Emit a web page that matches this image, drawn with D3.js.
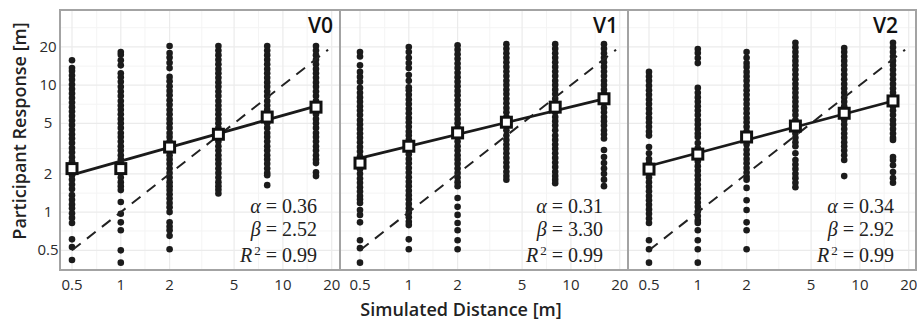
<!DOCTYPE html>
<html>
<head>
<meta charset="utf-8">
<script src="https://cdn.jsdelivr.net/npm/d3@7"></script>
<style>
  body { margin: 0; background: #fff; }
  svg { display: block; }
</style>
</head>
<body>
<div id="chart"></div>
<script>
// Data
const panelNames = ["V0", "V1", "V2"];
const simulated = [0.5, 1, 2, 4, 8, 16];
const tickValues = [0.5, 1, 2, 5, 10, 20];
const minorTicks = [0.71, 1.41, 3.16, 7.07, 14.1, 28.3];

const alphas = [0.36, 0.31, 0.34];
const betas = [2.52, 3.30, 2.92];
const rSquared = [0.99, 0.99, 0.99];

const meansV0 = [2.2, 2.2, 3.25, 4.1, 5.6, 6.7];
const meansV1 = [2.43, 3.3, 4.2, 5.1, 6.7, 7.8];
const meansV2 = [2.18, 2.86, 3.9, 4.76, 6.0, 7.5];

// participant responses, one list per simulated distance
const responsesV0 = [
  [15.7, 13.6, 12.9, 11.9, 11, 10.1, 9.3, 8.6, 7.9, 7.3, 6.7, 6.2, 5.7, 5.25, 4.85, 4.45, 4.1, 3.8, 3.5, 3.2, 2.95, 2.7, 2.5, 2.3, 2.12, 1.95, 1.8, 1.65, 1.52, 1.36, 1.25, 1.15, 1.07, 0.98, 0.9, 0.82, 0.61, 0.53, 0.42],
  [18.2, 17.3, 15.7, 14.3, 12.4, 11.5, 10.6, 9.7, 8.9, 8.2, 7.5, 6.9, 6.4, 5.9, 5.4, 5, 4.6, 4.2, 3.9, 3.6, 3.3, 3.05, 2.8, 2.6, 2.4, 2.2, 2.03, 1.87, 1.72, 1.6, 1.49, 1.2, 0.97, 0.83, 0.72, 0.5, 0.4],
  [20.3, 17.9, 16.5, 15, 13.6, 11.6, 10.7, 9.8, 9, 8.3, 7.6, 7, 6.4, 5.9, 5.4, 5, 4.6, 4.2, 3.9, 3.6, 3.3, 3.05, 2.8, 2.6, 2.4, 2.2, 2.03, 1.87, 1.72, 1.6, 1.49, 1.38, 1.28, 1.18, 1.09, 1.0, 0.83, 0.77, 0.72, 0.65, 0.51],
  [20.3, 18.7, 17.2, 15.8, 14.6, 13.4, 12.4, 11.4, 10.5, 9.7, 8.9, 8.2, 7.5, 6.9, 6.4, 5.9, 5.4, 5, 4.6, 4.2, 3.9, 3.6, 3.3, 3.05, 2.8, 2.6, 2.4, 2.2, 2.03, 1.87, 1.72, 1.6, 1.5, 1.4],
  [20.3, 18.7, 17.2, 15.8, 14.6, 13.4, 12.4, 11.4, 10.5, 9.7, 8.9, 8.2, 7.5, 6.9, 6.4, 5.9, 5.4, 5, 4.6, 4.2, 3.9, 3.6, 3.3, 3.05, 2.8, 2.6, 2.4, 2.2, 2.03, 1.95, 1.63],
  [20.3, 18.7, 17.2, 15.8, 14.6, 13.4, 12.4, 11.4, 10.5, 9.7, 8.9, 8.2, 7.5, 6.9, 6.4, 5.9, 5.4, 5, 4.6, 4.2, 3.9, 3.6, 3.3, 3.05, 2.8, 2.6, 2.43, 2.06, 1.92]
];
const responsesV1 = [
  [18.2, 16.8, 14.3, 12.7, 11.6, 10.6, 9.5, 8.7, 8, 7.4, 6.8, 6.3, 5.8, 5.3, 4.9, 4.5, 4.15, 3.85, 3.55, 3.25, 3, 2.75, 2.55, 2.35, 2.17, 2, 1.84, 1.7, 1.57, 1.45, 1.34, 1.26, 1.18, 1.04, 0.95, 0.83, 0.6, 0.52, 0.4],
  [19.9, 18.2, 16.4, 14.9, 13.6, 12, 10.8, 9.6, 9.1, 8.4, 7.7, 7.1, 6.5, 6, 5.5, 5.1, 4.7, 4.3, 4, 3.7, 3.4, 3.1, 2.85, 2.62, 2.42, 2.22, 2.05, 1.88, 1.73, 1.6, 1.47, 1.36, 1.26, 1.16, 1.07, 0.99, 0.91, 0.84, 0.79, 0.61, 0.51],
  [20.6, 19, 17.5, 16.1, 14.8, 13.6, 12.5, 11.5, 10.6, 9.8, 9, 8.3, 7.6, 7, 6.4, 5.9, 5.4, 5, 4.6, 4.2, 3.9, 3.6, 3.3, 3.05, 2.8, 2.6, 2.4, 2.2, 2.03, 1.87, 1.72, 1.6, 1.29, 1.1, 0.95, 0.82, 0.72, 0.6, 0.51],
  [21, 19.3, 17.8, 16.4, 15.1, 13.9, 12.8, 11.8, 10.8, 10, 9.2, 8.5, 7.8, 7.2, 6.6, 6.1, 5.6, 5.2, 4.8, 4.4, 4, 3.7, 3.4, 3.15, 2.9, 2.67, 2.46, 2.26, 2.08, 1.92, 1.8],
  [21, 19.3, 17.8, 16.4, 15.1, 13.9, 12.8, 11.8, 10.8, 10, 9.2, 8.5, 7.8, 7.2, 6.6, 6.1, 5.6, 5.2, 4.8, 4.4, 4, 3.7, 3.4, 3.15, 2.9, 2.67, 2.46, 2.26, 2.08, 1.92, 1.8, 1.69],
  [21, 19.3, 17.8, 16.4, 15.1, 13.9, 12.8, 11.8, 10.8, 10, 9.2, 8.5, 7.8, 7.2, 6.6, 6.1, 5.6, 5.2, 4.8, 4.4, 4.1, 3.8, 3.08, 2.71, 2.43, 2.2, 2.0, 1.8, 1.6]
];
const responsesV2 = [
  [12.7, 11.7, 10.8, 9.9, 9.1, 8.4, 7.7, 7.1, 6.5, 6, 5.5, 5.1, 4.7, 4.3, 4, 3.25, 2.9, 2.62, 2.42, 2.22, 2.03, 1.87, 1.72, 1.58, 1.46, 1.34, 1.24, 1.14, 1.05, 0.97, 0.89, 0.82, 0.6, 0.51, 0.4],
  [19.2, 17.9, 16.3, 14.9, 9.5, 8.7, 8, 7.4, 6.8, 6.3, 5.8, 5.3, 4.9, 4.5, 4.15, 3.9, 3.5, 3.2, 2.95, 2.72, 2.5, 2.3, 2.12, 1.95, 1.8, 1.65, 1.52, 1.4, 1.29, 1.19, 1.1, 1.01, 0.93, 0.86, 0.82, 0.72, 0.6, 0.51, 0.4],
  [18.2, 16.4, 14.9, 13.9, 12.7, 11.7, 10.8, 9.9, 9.1, 8.4, 7.7, 7.1, 6.5, 6, 5.5, 5.1, 4.7, 4.3, 4, 3.7, 3.4, 3.1, 2.85, 2.62, 2.42, 2.22, 2.05, 1.9, 1.8, 1.55, 1.24, 1.04, 0.83, 0.72, 0.51],
  [21.5, 19.8, 18.2, 16.8, 15.5, 14.3, 13.2, 12.1, 11.1, 10.2, 9.4, 8.7, 8, 7.4, 6.8, 6.3, 5.8, 5.3, 4.9, 4.5, 4.15, 3.85, 3.55, 3.3, 2.9, 2.57, 2.37, 2.18, 2, 1.85, 1.7, 1.57],
  [19.6, 18.2, 16.8, 15.5, 14.3, 13.2, 12.1, 11.1, 10.2, 9.4, 8.7, 8, 7.4, 6.8, 6.3, 5.8, 5.3, 4.9, 4.5, 4.15, 3.85, 3.55, 3.3, 3.05, 2.8, 2.57, 1.92],
  [21.5, 19.8, 18.2, 16.8, 15.5, 14.3, 13.2, 12.1, 11.1, 10.2, 9.4, 8.7, 8, 7.4, 6.8, 6.3, 5.8, 5.3, 4.9, 4.5, 4.15, 3.85, 3.7, 2.71, 2.57, 2.34, 2.07, 1.85, 1.7]
];

const allResponses = [responsesV0, responsesV1, responsesV2];
const allMeans = [meansV0, meansV1, meansV2];

// Layout
var width = 917, height = 320;
var frameTop = 10, frameBottom = 270;
var frames = [[60, 340], [340, 628], [628, 916]];
var firstPoint = [72, 360, 649];   // pixel of x = 0.5 in each panel
var labelRight = [333, 618, 898];
var annotRight = [317, 603, 894];
var sans = "'Open Sans', 'Noto Sans', sans-serif";

var svg = d3.select("#chart").append("svg")
  .attr("width", width)
  .attr("height", height);

var y = d3.scaleLog().domain([0.35, 39]).range([frameBottom, frameTop]);

panelNames.forEach(function(name, i) {
  var x = d3.scaleLog().domain([0.5, 16]).range([firstPoint[i], firstPoint[i] + 244]);
  var left = frames[i][0], right = frames[i][1];
  var g = svg.append("g");

  var clipId = "clip" + i;
  g.append("clipPath").attr("id", clipId)
    .append("rect")
    .attr("x", left).attr("y", frameTop)
    .attr("width", right - left).attr("height", frameBottom - frameTop);

  var inner = g.append("g").attr("clip-path", "url(#" + clipId + ")");

  // Gridlines
  inner.selectAll(".hminor").data(minorTicks).enter().append("line")
    .attr("x1", left).attr("x2", right)
    .attr("y1", d => y(d)).attr("y2", d => y(d))
    .attr("stroke", "#f4f4f4").attr("stroke-width", 1);
  inner.selectAll(".vminor").data(minorTicks).enter().append("line")
    .attr("y1", frameTop).attr("y2", frameBottom)
    .attr("x1", d => x(d)).attr("x2", d => x(d))
    .attr("stroke", "#f4f4f4").attr("stroke-width", 1);
  inner.selectAll(".hmajor").data(tickValues).enter().append("line")
    .attr("x1", left).attr("x2", right)
    .attr("y1", d => y(d)).attr("y2", d => y(d))
    .attr("stroke", "#ebebeb").attr("stroke-width", 1.2);
  inner.selectAll(".vmajor").data(tickValues).enter().append("line")
    .attr("y1", frameTop).attr("y2", frameBottom)
    .attr("x1", d => x(d)).attr("x2", d => x(d))
    .attr("stroke", "#ebebeb").attr("stroke-width", 1.2);

  // Responses
  var pts = [];
  allResponses[i].forEach(function(col, j) {
    col.forEach(function(v) { pts.push([simulated[j], v]); });
  });
  inner.selectAll(".dot").data(pts).enter().append("circle")
    .attr("cx", d => x(d[0]))
    .attr("cy", d => y(d[1]))
    .attr("r", 3.3)
    .attr("fill", "#1b1b1b");

  // Identity line
  inner.append("line")
    .attr("x1", x(0.5)).attr("y1", y(0.5))
    .attr("x2", x(19)).attr("y2", y(19))
    .attr("stroke", "#222")
    .attr("stroke-width", 2)
    .attr("stroke-dasharray", "11,8");

  // Power-law fit
  var fit = [0.5, 16].map(d => [d, betas[i] * Math.pow(d, alphas[i])]);
  inner.append("path")
    .datum(fit)
    .attr("d", d3.line().x(d => x(d[0])).y(d => y(d[1])))
    .attr("stroke", "#1a1a1a")
    .attr("stroke-width", 2.8)
    .attr("fill", "none");

  // Means
  inner.selectAll(".mean").data(allMeans[i]).enter().append("rect")
    .attr("x", (d, j) => x(simulated[j]) - 5)
    .attr("y", d => y(d) - 5)
    .attr("width", 10).attr("height", 10)
    .attr("fill", "#fff")
    .attr("stroke", "#111")
    .attr("stroke-width", 3);

  // Panel label
  g.append("text")
    .attr("x", labelRight[i]).attr("y", 33)
    .attr("text-anchor", "end")
    .attr("font-family", sans)
    .attr("font-size", 21)
    .attr("font-weight", 600)
    .attr("fill", "#111")
    .text(name);

  // Fit annotation
  var ann = g.append("g")
    .attr("font-family", "'Liberation Serif', 'DejaVu Serif', serif")
    .attr("font-size", 20)
    .attr("fill", "#222")
    .attr("text-anchor", "end");
  var t1 = ann.append("text").attr("x", annotRight[i]).attr("y", 213);
  t1.append("tspan").attr("font-style", "italic").text("α");
  t1.append("tspan").text(" = " + alphas[i].toFixed(2));
  var t2 = ann.append("text").attr("x", annotRight[i]).attr("y", 236);
  t2.append("tspan").attr("font-style", "italic").text("β");
  t2.append("tspan").text(" = " + betas[i].toFixed(2));
  var t3 = ann.append("text").attr("x", annotRight[i]).attr("y", 262);
  t3.append("tspan").attr("font-style", "italic").text("R");
  t3.append("tspan").attr("font-size", 13).attr("dx", 2).attr("dy", -7).text("2");
  t3.append("tspan").attr("dy", 7).text(" = " + rSquared[i].toFixed(2));

  // X tick labels
  g.selectAll(".xtick").data(tickValues).enter().append("text")
    .attr("x", d => x(d))
    .attr("y", 290)
    .attr("text-anchor", "middle")
    .attr("font-family", sans)
    .attr("font-size", 15)
    .attr("fill", "#2b2b2b")
    .text(d => d);

  // Frame
  g.append("rect")
    .attr("x", left).attr("y", frameTop)
    .attr("width", right - left).attr("height", frameBottom - frameTop)
    .attr("fill", "none")
    .attr("stroke", "#a3a3a3")
    .attr("stroke-width", 2);
});

// Y tick labels
svg.selectAll(".ytick").data(tickValues).enter().append("text")
  .attr("x", 48)
  .attr("y", d => y(d) + 5)
  .attr("text-anchor", "middle")
  .attr("font-family", sans)
  .attr("font-size", 15)
  .attr("fill", "#2b2b2b")
  .text(d => d);

// Axis titles
svg.append("text")
  .attr("x", 461).attr("y", 316)
  .attr("text-anchor", "middle")
  .attr("font-family", sans)
  .attr("font-size", 18)
  .attr("font-weight", 600)
  .attr("fill", "#222")
  .text("Simulated Distance [m]");

svg.append("text")
  .attr("transform", "translate(26,131) rotate(-90)")
  .attr("text-anchor", "middle")
  .attr("font-family", sans)
  .attr("font-size", 18)
  .attr("font-weight", 600)
  .attr("fill", "#222")
  .text("Participant Response [m]");
</script>
</body>
</html>
